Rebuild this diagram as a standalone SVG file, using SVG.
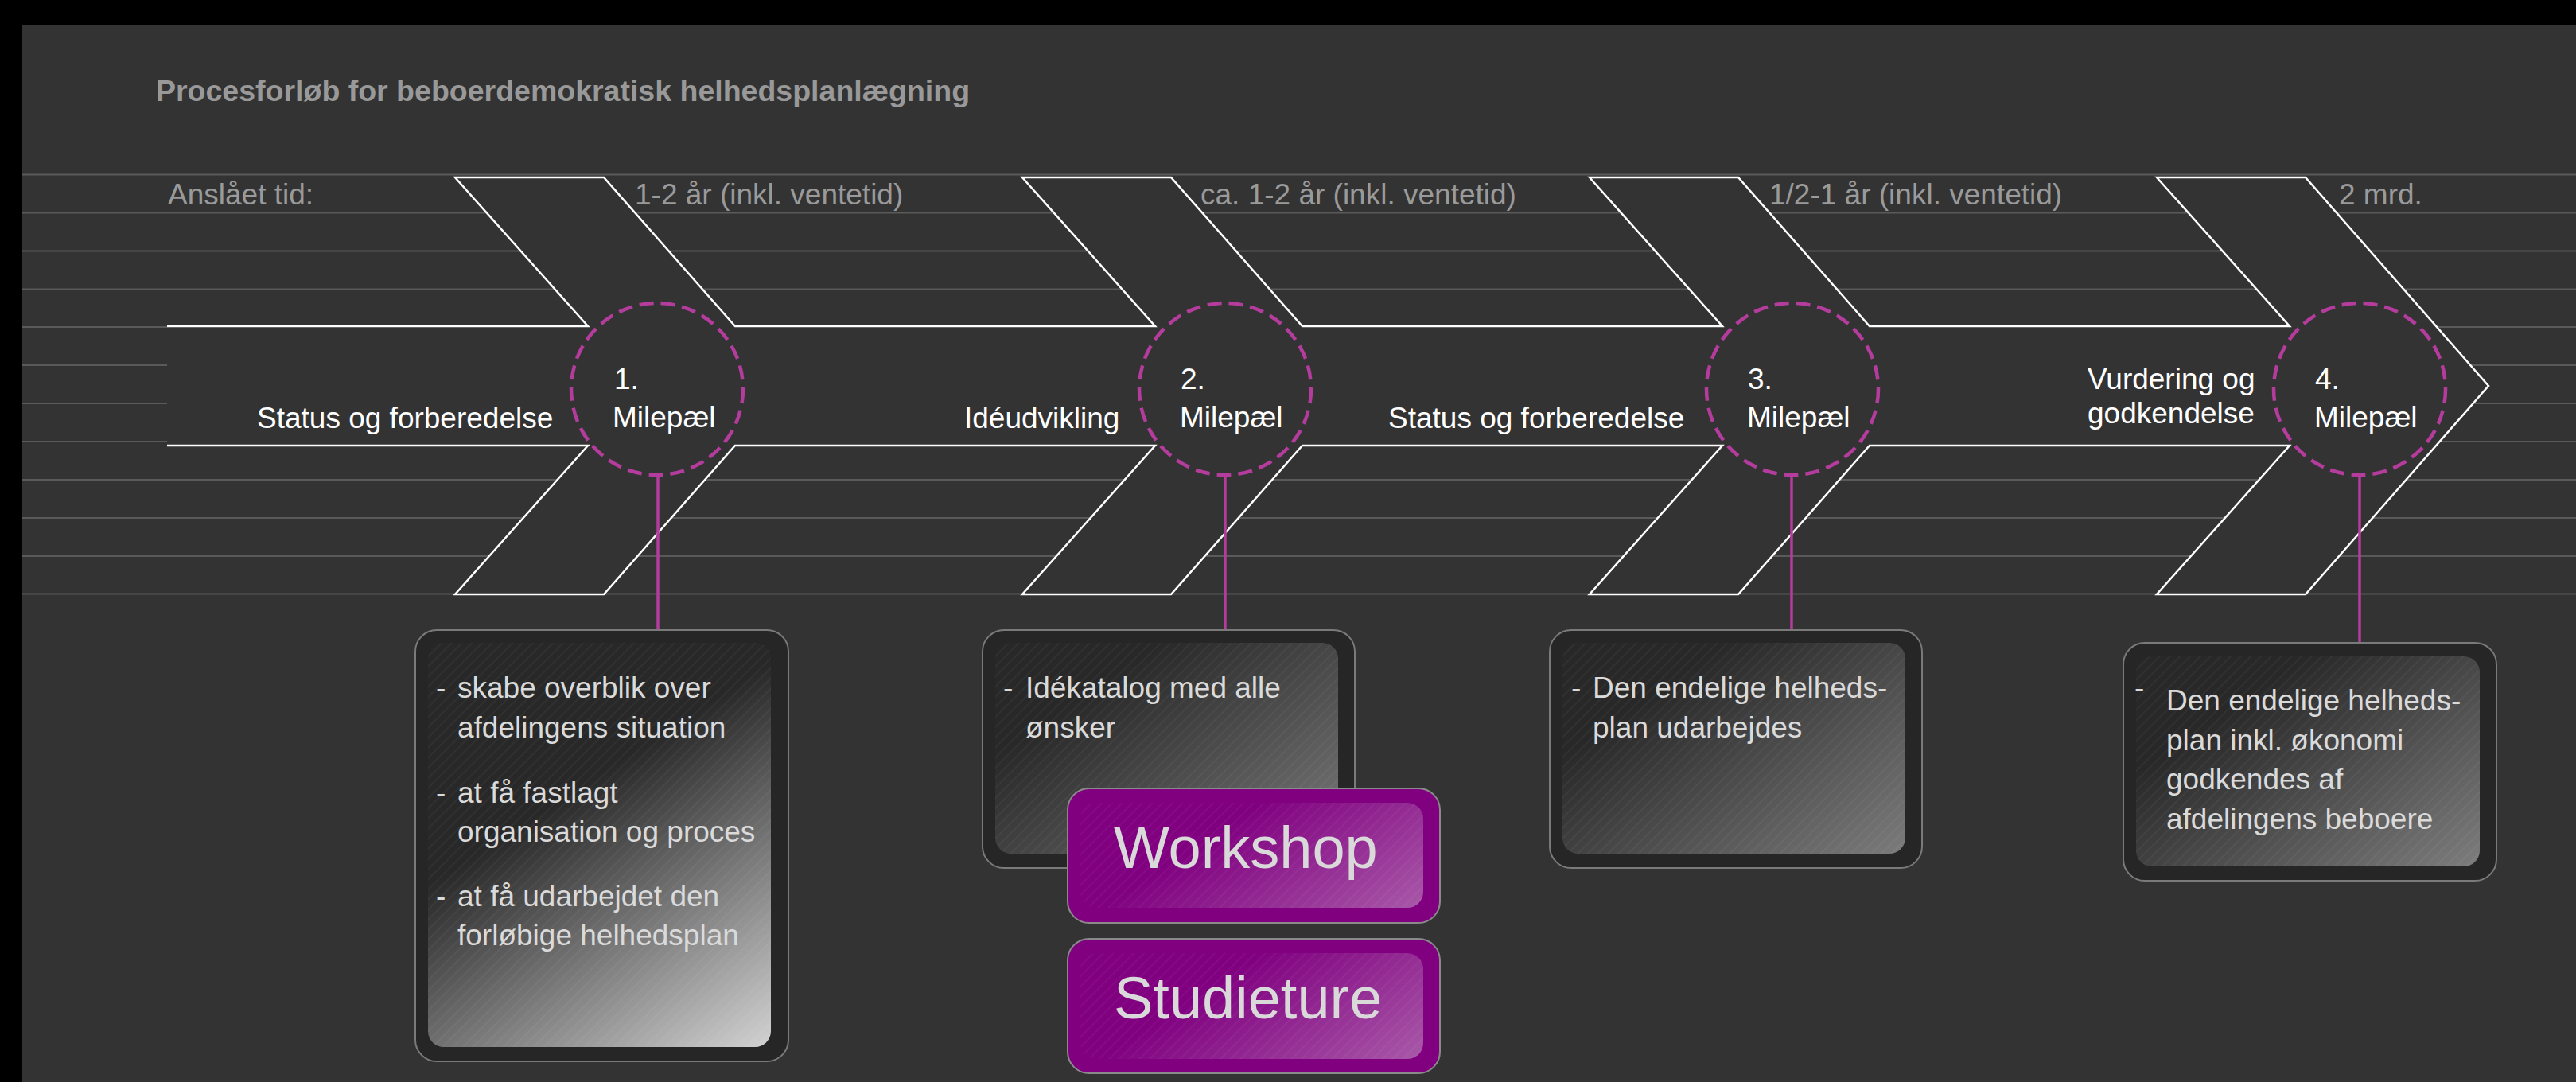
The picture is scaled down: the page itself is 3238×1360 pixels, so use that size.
<svg xmlns="http://www.w3.org/2000/svg" width="3238" height="1360" viewBox="0 0 3238 1360">
<style>
.grid{stroke:#5a5a5a;stroke-width:2}
.gl{font-family:"Liberation Sans",Arial,sans-serif;font-size:37px;fill:#9a9a9a}
.wl{font-family:"Liberation Sans",Arial,sans-serif;font-size:37px;fill:#ffffff}
.bt{font-family:"Liberation Sans",Arial,sans-serif;font-size:37px;fill:#dadada}
.big{font-family:"Liberation Sans",Arial,sans-serif;font-size:74px;fill:#d9d9d9}
.ms{fill:none;stroke:#b43c9c;stroke-width:4.5;stroke-dasharray:18 9}
.conn{stroke:#b43c9c;stroke-width:3.5}
.outer{fill:#262626;stroke:#7a7a7a;stroke-width:2}
.pouter{fill:#800080;stroke:#8a8a8a;stroke-width:2}
</style>
<defs>
<pattern id="stripes" width="9" height="9" patternUnits="userSpaceOnUse" patternTransform="rotate(45)">
<line x1="1" y1="0" x2="1" y2="9" stroke="#ffffff" stroke-opacity="0.05" stroke-width="1.5"/>
</pattern>
<linearGradient id="g1" gradientUnits="userSpaceOnUse" x1="735" y1="985" x2="956" y2="1325"><stop offset="0" stop-color="#282828"/><stop offset="1" stop-color="#d2d2d2"/></linearGradient>
<linearGradient id="g2" gradientUnits="userSpaceOnUse" x1="1360" y1="875" x2="1552" y2="1156"><stop offset="0" stop-color="#282828"/><stop offset="1" stop-color="#7a7a7a"/></linearGradient>
<linearGradient id="g3" gradientUnits="userSpaceOnUse" x1="2073" y1="875" x2="2265" y2="1156"><stop offset="0" stop-color="#282828"/><stop offset="1" stop-color="#7a7a7a"/></linearGradient>
<linearGradient id="g4" gradientUnits="userSpaceOnUse" x1="2795" y1="895" x2="2985" y2="1175"><stop offset="0" stop-color="#282828"/><stop offset="1" stop-color="#7c7c7c"/></linearGradient>
<linearGradient id="gw" gradientUnits="userSpaceOnUse" x1="1505" y1="1060" x2="1628" y2="1246"><stop offset="0" stop-color="#800080"/><stop offset="1" stop-color="#a858a8"/></linearGradient>
<linearGradient id="gs" gradientUnits="userSpaceOnUse" x1="1505" y1="1249" x2="1628" y2="1435"><stop offset="0" stop-color="#800080"/><stop offset="1" stop-color="#a858a8"/></linearGradient>
</defs>

<g id="background">
<rect x="0" y="0" width="3238" height="1360" fill="#000"/>
<rect x="28" y="31" width="3210" height="1329" fill="#333333"/>
</g>

<g id="title">
<text x="196" y="127" font-family="'Liberation Sans',Arial,sans-serif" font-size="37.5" font-weight="bold" fill="#999999">Procesforløb for beboerdemokratisk helhedsplanlægning</text>
</g>

<g id="gridlines">
<line class="grid" x1="28" y1="219.5" x2="3238" y2="219.5"/>
<line class="grid" x1="28" y1="267.5" x2="3238" y2="267.5"/>
<line class="grid" x1="28" y1="315.5" x2="3238" y2="315.5"/>
<line class="grid" x1="28" y1="363.5" x2="3238" y2="363.5"/>
<line class="grid" x1="28" y1="411" x2="3238" y2="411"/>
<line class="grid" x1="28" y1="459" x2="3238" y2="459"/>
<line class="grid" x1="28" y1="507" x2="3238" y2="507"/>
<line class="grid" x1="28" y1="555" x2="3238" y2="555"/>
<line class="grid" x1="28" y1="603" x2="3238" y2="603"/>
<line class="grid" x1="28" y1="651" x2="3238" y2="651"/>
<line class="grid" x1="28" y1="699" x2="3238" y2="699"/>
<line class="grid" x1="28" y1="746.5" x2="3238" y2="746.5"/>
</g>

<g id="timeline">
<path d="M210,410 L739,410 L572,223 L759,223 L924,410 L1452,410 L1285,223 L1472,223 L1637,410 L2165,410 L1998,223 L2185,223 L2350,410 L2878,410 L2711,223 L2898,223 L3128,485 L2898,747 L2711,747 L2878,560 L2350,560 L2185,747 L1998,747 L2165,560 L1637,560 L1472,747 L1285,747 L1452,560 L924,560 L759,747 L572,747 L739,560 L210,560 Z" fill="#333333" stroke="none"/>
<path d="M210,410 L739,410 L572,223 L759,223 L924,410 L1452,410 L1285,223 L1472,223 L1637,410 L2165,410 L1998,223 L2185,223 L2350,410 L2878,410 L2711,223 L2898,223 L3128,485 L2898,747 L2711,747 L2878,560 L2350,560 L2185,747 L1998,747 L2165,560 L1637,560 L1472,747 L1285,747 L1452,560 L924,560 L759,747 L572,747 L739,560 L210,560" fill="none" stroke="#ffffff" stroke-width="2.5" stroke-linejoin="miter"/>
</g>

<g id="time-labels">
<text class="gl" x="211" y="257">Anslået tid:</text>
<text class="gl" x="798" y="257">1-2 år (inkl. ventetid)</text>
<text class="gl" x="1509" y="257">ca. 1-2 år (inkl. ventetid)</text>
<text class="gl" x="2224" y="257">1/2-1 år (inkl. ventetid)</text>
<text class="gl" x="2940" y="257">2 mrd.</text>
</g>

<g id="phase-labels">
<text class="wl" x="323" y="538">Status og forberedelse</text>
<text class="wl" x="1212" y="538">Idéudvikling</text>
<text class="wl" x="1745" y="538">Status og forberedelse</text>
<text class="wl" x="2624" y="489">Vurdering og</text>
<text class="wl" x="2624" y="532">godkendelse</text>
</g>

<g id="connectors">
<line class="conn" x1="827" y1="597" x2="827" y2="792"/>
<line class="conn" x1="1540" y1="597" x2="1540" y2="792"/>
<line class="conn" x1="2252" y1="597" x2="2252" y2="792"/>
<line class="conn" x1="2966" y1="597" x2="2966" y2="808"/>
</g>

<g id="milestone1">
<circle class="ms" cx="826" cy="489" r="108"/>
<text class="wl" x="772" y="489">1.</text>
<text class="wl" x="770" y="537">Milepæl</text>
</g>
<g id="milestone2">
<circle class="ms" cx="1540" cy="489" r="108"/>
<text class="wl" x="1484" y="489">2.</text>
<text class="wl" x="1483" y="537">Milepæl</text>
</g>
<g id="milestone3">
<circle class="ms" cx="2253" cy="489" r="108"/>
<text class="wl" x="2197" y="489">3.</text>
<text class="wl" x="2196" y="537">Milepæl</text>
</g>
<g id="milestone4">
<circle class="ms" cx="2966" cy="489" r="108"/>
<text class="wl" x="2910" y="489">4.</text>
<text class="wl" x="2909" y="537">Milepæl</text>
</g>

<g id="box1">
<rect class="outer" x="522" y="792" width="469" height="542" rx="27"/>
<rect x="538" y="808" width="431" height="508" rx="20" fill="url(#g1)"/>
<rect x="538" y="808" width="431" height="508" rx="20" fill="url(#stripes)"/>
<text class="bt" x="548" y="877">-</text>
<text class="bt" x="575" y="877">skabe overblik over</text>
<text class="bt" x="575" y="927">afdelingens situation</text>
<text class="bt" x="548" y="1009">-</text>
<text class="bt" x="575" y="1009">at få fastlagt</text>
<text class="bt" x="575" y="1058">organisation og proces</text>
<text class="bt" x="548" y="1139">-</text>
<text class="bt" x="575" y="1139">at få udarbejdet den</text>
<text class="bt" x="575" y="1188">forløbige helhedsplan</text>
</g>

<g id="box2">
<rect class="outer" x="1235" y="792" width="468" height="299" rx="27"/>
<rect x="1251" y="808" width="431" height="265" rx="20" fill="url(#g2)"/>
<rect x="1251" y="808" width="431" height="265" rx="20" fill="url(#stripes)"/>
<text class="bt" x="1261" y="877">-</text>
<text class="bt" x="1289" y="877">Idékatalog med alle</text>
<text class="bt" x="1289" y="927">ønsker</text>
</g>

<g id="box3">
<rect class="outer" x="1948" y="792" width="468" height="299" rx="27"/>
<rect x="1964" y="808" width="431" height="265" rx="20" fill="url(#g3)"/>
<rect x="1964" y="808" width="431" height="265" rx="20" fill="url(#stripes)"/>
<text class="bt" x="1975" y="877">-</text>
<text class="bt" x="2002" y="877">Den endelige helheds-</text>
<text class="bt" x="2002" y="927">plan udarbejdes</text>
</g>

<g id="box4">
<rect class="outer" x="2669" y="808" width="469" height="299" rx="27"/>
<rect x="2685" y="825" width="432" height="264" rx="20" fill="url(#g4)"/>
<rect x="2685" y="825" width="432" height="264" rx="20" fill="url(#stripes)"/>
<text class="bt" x="2683" y="877">-</text>
<text class="bt" x="2723" y="893">Den endelige helheds-</text>
<text class="bt" x="2723" y="943">plan inkl. økonomi</text>
<text class="bt" x="2723" y="992">godkendes af</text>
<text class="bt" x="2723" y="1042">afdelingens beboere</text>
</g>

<g id="workshop">
<rect class="pouter" x="1342" y="991" width="468" height="169" rx="27"/>
<rect x="1358" y="1009" width="431" height="132" rx="20" fill="url(#gw)"/>
<rect x="1358" y="1009" width="431" height="132" rx="20" fill="url(#stripes)"/>
<text class="big" x="1400" y="1091">Workshop</text>
</g>

<g id="studieture">
<rect class="pouter" x="1342" y="1180" width="468" height="169" rx="27"/>
<rect x="1358" y="1198" width="431" height="133" rx="20" fill="url(#gs)"/>
<rect x="1358" y="1198" width="431" height="133" rx="20" fill="url(#stripes)"/>
<text class="big" x="1400" y="1280">Studieture</text>
</g>
</svg>
